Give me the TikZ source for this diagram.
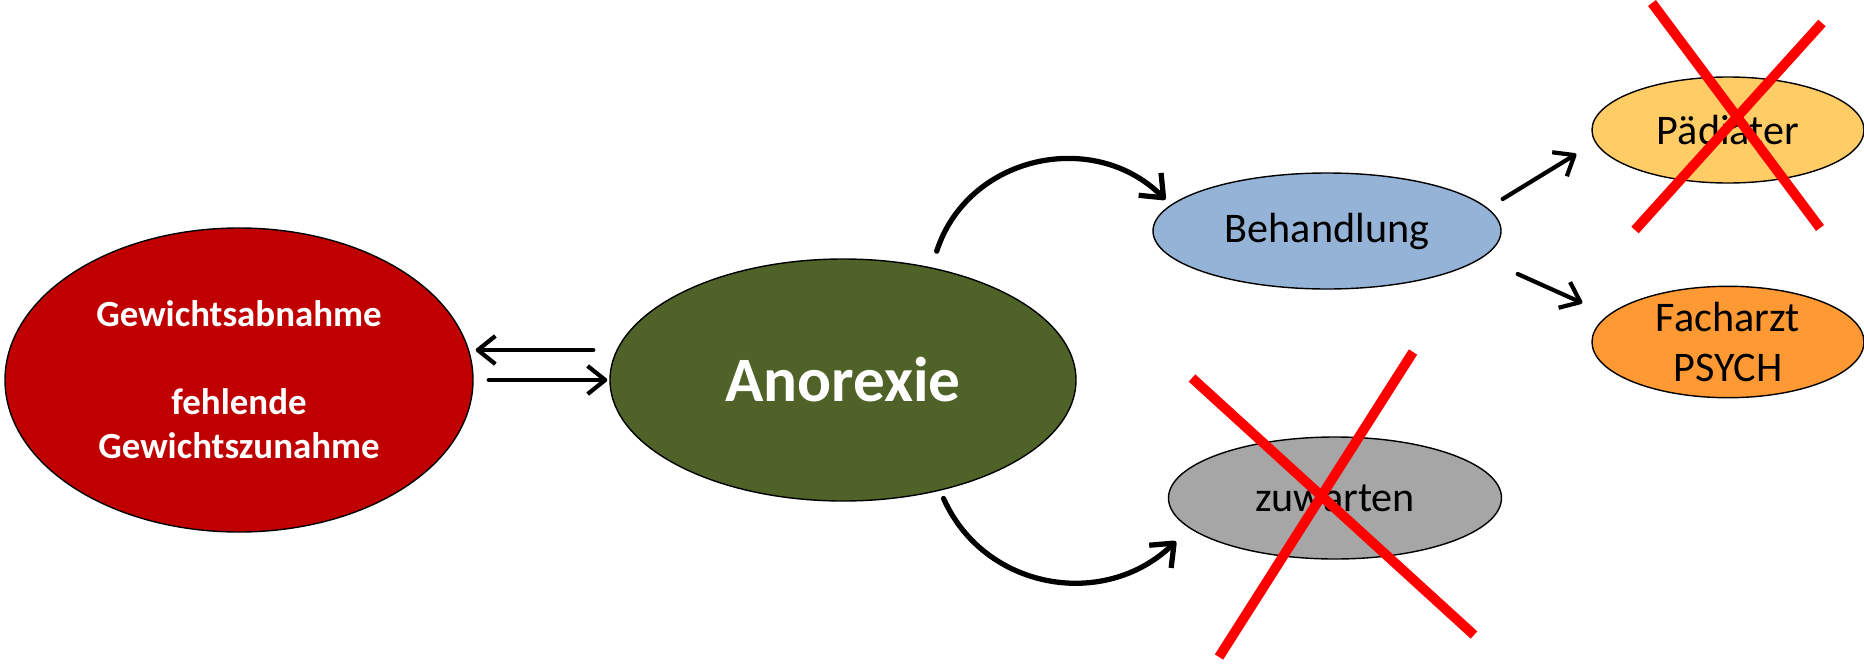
\documentclass[tikz,border=0pt]{standalone}
\usepackage{fontspec}
\setmainfont{Carlito}
\usetikzlibrary{shapes.geometric,arrows.meta}
\definecolor{gewrot}{HTML}{C00000}
\definecolor{anogruen}{HTML}{4F6228}
\definecolor{behblau}{HTML}{95B3D7}
\definecolor{paegelb}{HTML}{FFCC66}
\definecolor{facharzt}{HTML}{FF9933}
\definecolor{zugrau}{HTML}{A6A6A6}
\begin{document}
\begin{tikzpicture}
            \useasboundingbox (0,0) rectangle (18.64,6.63);
            \begin{scope}[every node/.style={ellipse,draw,line width=0.4pt,inner sep=0pt,font=\fontsize{12}{14}\selectfont}]
                \node[fill=gewrot,text=white,minimum width=4.68cm,minimum height=3.04cm,align=center,
                      font=\bfseries\fontsize{10.5}{12.5}\selectfont] (gew) at (2.39,2.83)
                      {Gewichtsabnahme\\[12.5pt]fehlende\\Gewichtszunahme};
                \node[fill=anogruen,text=white,minimum width=4.66cm,minimum height=2.42cm,
                      font=\bfseries\fontsize{18}{21}\selectfont] (ano) at (8.43,2.83) {Anorexie};
                \node[fill=behblau,minimum width=3.48cm,minimum height=1.16cm] (beh) at (13.27,4.32) {Behandlung};
                \node[fill=paegelb,minimum width=2.72cm,minimum height=1.06cm] (pae) at (17.28,5.33) {Pädiater};
                \node[fill=facharzt,minimum width=2.72cm,minimum height=1.06cm,align=center] (fach) at (17.28,3.21) {Facharzt\\PSYCH};
                \node[fill=zugrau,minimum width=3.33cm,minimum height=1.22cm] (zu) at (13.35,1.65) {zuwarten};
            \end{scope}
            \begin{scope}[every edge/.style={draw,line width=1.2pt,line cap=round,
                          -{Straight Barb[length=5pt,width=8pt,line join=round]}}]
                \path
                    ([xshift=-1.6mm,yshift=3mm]ano.west) edge ([xshift=0.2mm,yshift=3mm]gew.east)
                    ([xshift=1.5mm]gew.east) edge ([xshift=-0.2mm]ano.west)
                    ([shift={(0.11,0.15)}]ano.54) edge [line width=1.5pt,-{Straight Barb[length=5.5pt,width=9pt,line join=round]},
                        out=72,in=135,looseness=1.1] ([xshift=-1.4mm]beh.168)
                    ([shift={(0.07,-0.07)}]ano.-50) edge [line width=1.5pt,-{Straight Barb[length=5.5pt,width=9pt,line join=round]},
                        out=-66,in=-136,looseness=1.08] ([xshift=-4mm]zu.200)
                    ([shift={(0.01,0.32)}]beh.east) edge ([shift={(-0.15,-0.24)}]pae.west)
                    ([shift={(0.16,-0.43)}]beh.east) edge ([shift={(-0.09,0.39)}]fach.west);
            \end{scope}
            % durchgestrichen
            \begin{scope}[red,line width=2.8pt]
                \draw ([shift={(-0.76,1.27)}]pae.center) -- ([shift={(0.92,-0.98)}]pae.center);
                \draw ([shift={(0.94,1.07)}]pae.center) -- ([shift={(-0.93,-1.00)}]pae.center);
                \draw ([shift={(-1.43,1.20)}]zu.center) -- ([shift={(1.39,-1.37)}]zu.center);
                \draw ([shift={(0.78,1.46)}]zu.center) -- ([shift={(-1.16,-1.59)}]zu.center);
            \end{scope}
        \end{tikzpicture}
\end{document}
